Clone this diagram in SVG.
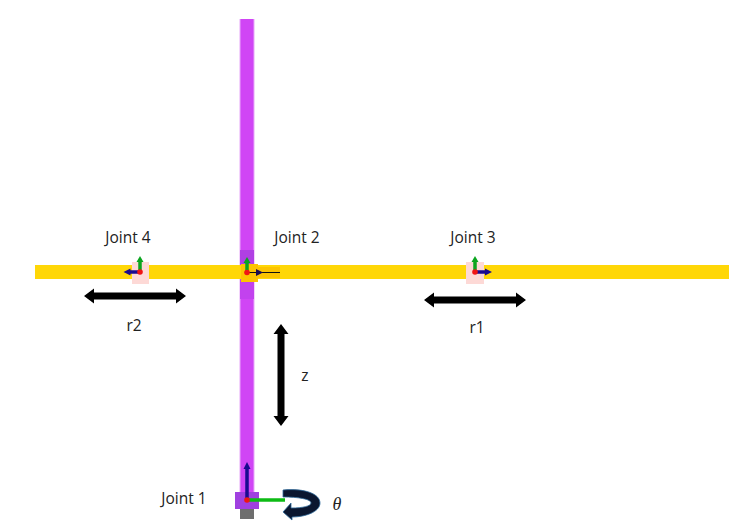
<svg xmlns="http://www.w3.org/2000/svg" width="752" height="532" viewBox="0 0 752 532">
<style>
text{font-family:"Open Sans","Noto Sans","Liberation Sans",sans-serif;font-size:15.500px;fill:#222;text-anchor:middle}
.dbl{fill:#000}
.green{stroke:#0aa51e;stroke-width:3.500;fill:none}
.blue{stroke:#1a0a90;stroke-width:3.500;fill:none}
.pink{fill:#fdd9d6}
.red{fill:#f01414}
</style>
<rect width="752" height="532" fill="#fff"/>
<g id="links">
<rect x="239.500" y="19" width="15" height="480" fill="#e8a8fa"/>
<rect x="240.500" y="19" width="13" height="480" fill="#d045f5"/>
<rect x="240" y="250" width="14" height="15" fill="#b040e4"/>
<rect x="240" y="279" width="14" height="20" fill="#c242ee"/>
<rect x="35" y="265" width="694" height="14" fill="#ffd707"/>
</g>
<g id="joint4">
<rect class="pink" x="132" y="262" width="17" height="22"/>
<path class="green" d="M140 272V260"/><path d="M140 256l-3.500 6h7z" fill="#0aa51e"/>
<path class="blue" d="M140 272H129"/><path d="M123.500 272l7-3.500v7z" fill="#1a0a90"/>
<circle class="red" cx="140" cy="272" r="2.800"/>
<text x="128" y="243">Joint 4</text>
</g>
<g id="joint2">
<rect x="241" y="264" width="17" height="18" fill="#fcc400"/>
<rect x="258" y="267" width="22" height="11" fill="#fcc400"/>
<path class="green" d="M247 272V261"/><path d="M247 257l-3.500 6h7z" fill="#0aa51e"/>
<path d="M247 272.500H280" stroke="#111" stroke-width="1.200"/>
<path d="M263 272.500l-7-3.500v7z" fill="#1a0a50"/>
<circle class="red" cx="247" cy="272.500" r="2.800"/>
<text x="297" y="243">Joint 2</text>
</g>
<g id="joint3">
<rect class="pink" x="466" y="262" width="18" height="22"/>
<path class="green" d="M475 272V260"/><path d="M475 256l-3.500 6h7z" fill="#0aa51e"/>
<path class="blue" d="M475 272H487"/><path d="M492 272l-7-3.500v7z" fill="#1a0a90"/>
<circle class="red" cx="475" cy="272" r="2.800"/>
<text x="473" y="243">Joint 3</text>
</g>
<g id="joint1">
<rect x="235" y="492" width="24" height="17" fill="#a040e0"/>
<rect x="240" y="509" width="14" height="10" fill="#6e6e6e"/>
<path class="blue" d="M247 500V468"/><path d="M247 462l-3.500 7h7z" fill="#1a0a90"/>
<path d="M247 500H285" stroke="#0dbb14" stroke-width="3.500"/>
<circle class="red" cx="247" cy="500" r="2.800"/>
<text x="184" y="504">Joint 1</text>
</g>
<g id="connectors">
<path class="dbl" d="M84 296l10-7.500v4h82v-4l10 7.500-10 7.500v-4H94v4z"/>
<path class="dbl" d="M424 300l10-7.500v4h82v-4l10 7.500-10 7.500v-4H434v4z"/>
<path class="dbl" d="M281 324l7.500 10h-4v82h4l-7.500 10-7.500-10h4v-82H273.500z"/>
<path d="M283 490C305 488 320 494 320 503C320 512 305 517 292 517V520L283 512L291 503V508C303 508 311 506 311 503C311 499 298 497 283 497Z" fill="#0b1730" stroke="#2d6a9a" stroke-width="0.800"/>
</g>
<g id="labels">
<text x="134" y="331">r2</text>
<text x="477" y="333">r1</text>
<text x="305" y="381">z</text>
<text x="337" y="510" style="font-family:'Liberation Serif',serif;font-style:italic;font-size:18px">θ</text>
</g>
</svg>
